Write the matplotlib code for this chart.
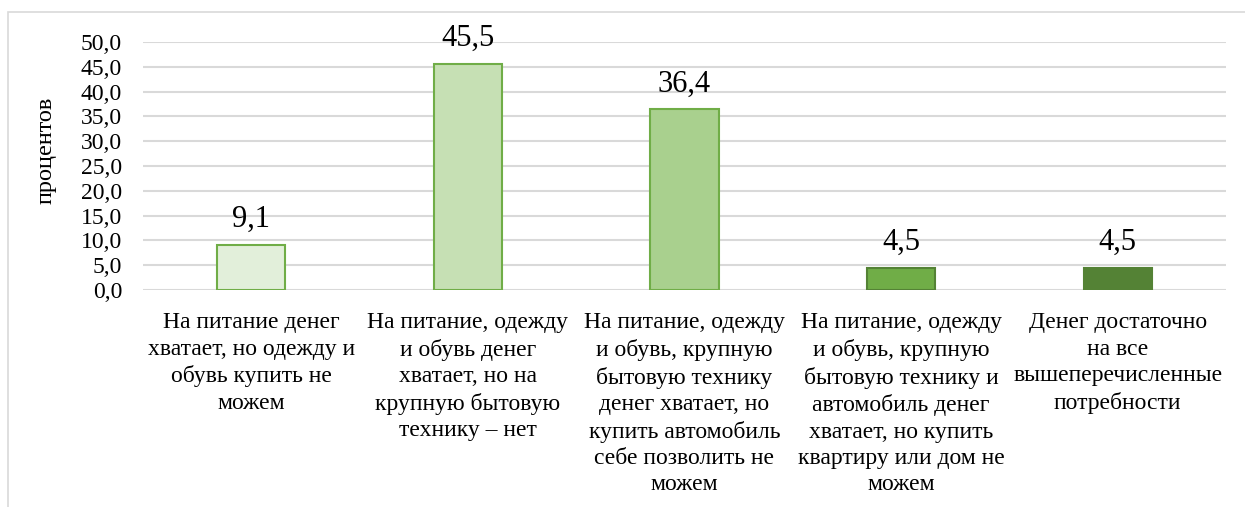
import matplotlib
matplotlib.use("Agg")
import matplotlib.pyplot as plt
from matplotlib.patches import Rectangle

categories = [
    "На питание денег\nхватает, но одежду и\nобувь купить не\nможем",
    "На питание, одежду\nи обувь денег\nхватает, но на\nкрупную бытовую\nтехнику – нет",
    "На питание, одежду\nи обувь, крупную\nбытовую технику\nденег хватает, но\nкупить автомобиль\nсебе позволить не\nможем",
    "На питание, одежду\nи обувь, крупную\nбытовую технику и\nавтомобиль денег\nхватает, но купить\nквартиру или дом не\nможем",
    "Денег достаточно\nна все\nвышеперечисленные\nпотребности",
]
values = [9.1, 45.5, 36.4, 4.5, 4.5]
value_labels = ["9,1", "45,5", "36,4", "4,5", "4,5"]
yticks = [0, 5, 10, 15, 20, 25, 30, 35, 40, 45, 50]
ytick_labels = ["0,0", "5,0", "10,0", "15,0", "20,0", "25,0", "30,0", "35,0", "40,0", "45,0", "50,0"]
ylabel = "процентов"

fill_colors = ["#E2EFDA", "#C6E0B4", "#A9D08E", "#70AD47", "#548235"]
edge_colors = ["#70AD47", "#70AD47", "#70AD47", "#548235", "#548235"]

plt.rcParams["font.family"] = ["Liberation Serif", "DejaVu Serif"]

W, H = 1245, 507
fig = plt.figure(figsize=(W / 100, H / 100), dpi=100)
fig.patch.set_facecolor("white")

# outer frame
fig.patches.append(Rectangle((8 / W, -0.05), 1.1, 1 - 12 / H + 0.05, transform=fig.transFigure,
                             fill=False, edgecolor="#D9D9D9", linewidth=1.2))

left, right, top, bottom = 143, 1226, 42, 290
ax = fig.add_axes([left / W, (H - bottom) / H, (right - left) / W, (bottom - top) / H])

x = list(range(len(values)))
ax.bar(x, values, width=0.315, color=fill_colors, edgecolor=edge_colors, linewidth=1.5, zorder=3)

for xi, v, lab in zip(x, values, value_labels):
    ax.annotate(lab, (xi, v), xytext=(0, 8), textcoords="offset points",
                ha="center", va="bottom", fontsize=22)

ax.set_xlim(-0.5, len(values) - 0.5)
ax.set_ylim(0, 50)
ax.set_yticks(yticks)
ax.set_yticklabels(ytick_labels, fontsize=17)
ax.set_xticks(x)
ax.set_xticklabels(categories, fontsize=17, linespacing=1.335, va="top")
ax.tick_params(axis="both", length=0)
ax.tick_params(axis="x", pad=16)
ax.tick_params(axis="y", pad=15)
ax.yaxis.grid(True, color="#D9D9D9", linewidth=1.5, zorder=0)
ax.set_axisbelow(True)
for s in ax.spines.values():
    s.set_visible(False)

fig.text(46 / W, (H - 150) / H, ylabel, rotation=90, fontsize=17.5, ha="center", va="center")

fig.savefig("out.png", dpi=100, facecolor="white")
